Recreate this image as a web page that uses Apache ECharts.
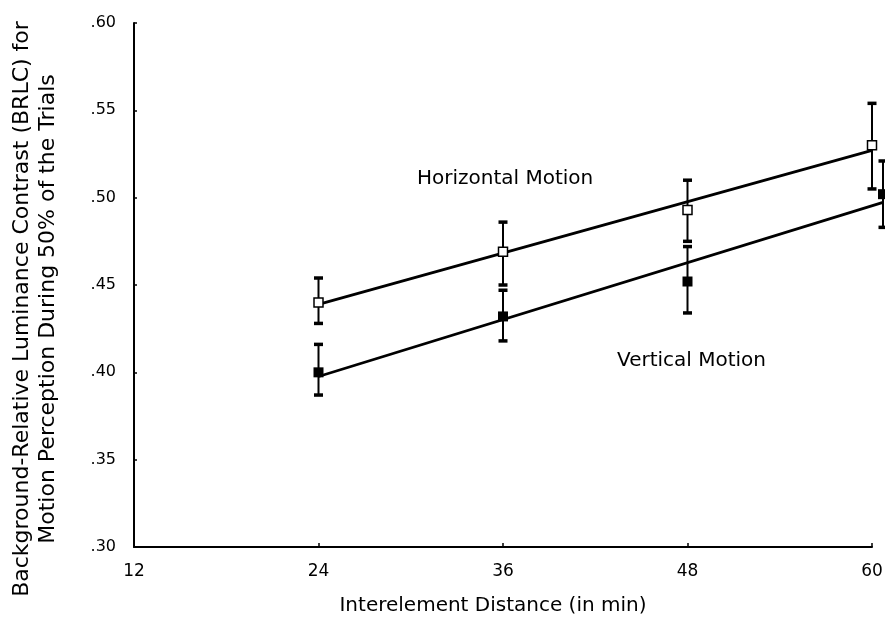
<!DOCTYPE html>
<html>
<head>
<meta charset="utf-8">
<script src="https://cdn.jsdelivr.net/npm/echarts@6/dist/echarts.min.js"></script>
<style>
  html, body { margin: 0; padding: 0; background: #fff; }
  #chart { width: 885px; height: 620px; }
</style>
</head>
<body>
<div id="chart"></div>
<script>
// Interelement distance (min) at which each condition was measured
const distances = [24, 36, 48, 60];
const xTicks = [12, 24, 36, 48, 60];
const yTicks = [0.30, 0.35, 0.40, 0.45, 0.50, 0.55, 0.60];

// Horizontal motion: mean BRLC threshold and error-bar limits
const horizMean = [0.440, 0.469, 0.493, 0.530];
const horizLow  = [0.428, 0.450, 0.475, 0.505];
const horizHigh = [0.454, 0.486, 0.510, 0.554];

// Vertical motion: mean BRLC threshold and error-bar limits
const vertMean = [0.400, 0.432, 0.452, 0.502];
const vertLow  = [0.387, 0.418, 0.434, 0.483];
const vertHigh = [0.416, 0.447, 0.472, 0.521];

const FONT = '"DejaVu Sans", "Liberation Sans", Arial, sans-serif';
const DODGE_PX = 11; // last vertical-motion point is nudged right so its bar clears the other one

// least-squares straight line through the means
function linearFit(xs, ys) {
  const n = xs.length;
  const mx = xs.reduce((a, b) => a + b, 0) / n;
  const my = ys.reduce((a, b) => a + b, 0) / n;
  let sxy = 0, sxx = 0;
  for (let i = 0; i < n; i++) {
    sxy += (xs[i] - mx) * (ys[i] - my);
    sxx += (xs[i] - mx) * (xs[i] - mx);
  }
  const slope = sxy / sxx;
  return x => my + slope * (x - mx);
}

function errorBarSeries(name, low, high, dodgeLast) {
  return {
    type: 'custom',
    name: name + ' SE',
    z: 1,
    clip: false,
    encode: { x: 0, y: [1, 2] },
    data: distances.map((x, i) => [x, low[i], high[i]]),
    renderItem(params, api) {
      const dx = (dodgeLast && params.dataIndex === distances.length - 1) ? DODGE_PX : 0;
      const top = api.coord([api.value(0), api.value(2)]);
      const bot = api.coord([api.value(0), api.value(1)]);
      const x = top[0] + dx;
      return {
        type: 'group',
        children: [
          { type: 'line', shape: { x1: x, y1: top[1], x2: x, y2: bot[1] },
            style: { stroke: '#000', lineWidth: 2 } },
          { type: 'rect', shape: { x: x - 4.5, y: top[1] - 1.75, width: 9, height: 3.5 },
            style: { fill: '#000' } },
          { type: 'rect', shape: { x: x - 4.5, y: bot[1] - 1.75, width: 9, height: 3.5 },
            style: { fill: '#000' } }
        ]
      };
    }
  };
}

function fitLineSeries(name, means, dodgeLast) {
  const f = linearFit(distances, means);
  const x0 = distances[0], x1 = distances[distances.length - 1];
  return {
    type: 'custom',
    name: name + ' fit',
    z: 2,
    clip: false,
    encode: { x: [0, 2], y: [1, 3] },
    data: [[x0, f(x0), x1, f(x1)]],
    renderItem(params, api) {
      const a = api.coord([api.value(0), api.value(1)]);
      const b = api.coord([api.value(2), api.value(3)]);
      let bx = b[0], by = b[1];
      if (dodgeLast) {
        // carry the line on to the nudged end point
        const slope = (b[1] - a[1]) / (b[0] - a[0]);
        bx += DODGE_PX;
        by += slope * DODGE_PX;
      }
      return {
        type: 'line',
        shape: { x1: a[0], y1: a[1], x2: bx, y2: by },
        style: { stroke: '#000', lineWidth: 2.8 }
      };
    }
  };
}

function pointSeries(name, means, filled, dodgeLast) {
  return {
    type: 'scatter',
    name: name,
    z: 3,
    symbol: 'rect',
    symbolSize: filled ? 10 : 9,
    itemStyle: filled
      ? { color: '#000', opacity: 1 }
      : { color: '#fff', borderColor: '#000', borderWidth: 1.5, opacity: 1 },
    emphasis: { disabled: true },
    data: distances.map((x, i) => {
      const item = { value: [x, means[i]] };
      if (dodgeLast && i === distances.length - 1) item.symbolOffset = [DODGE_PX, 0];
      return item;
    })
  };
}

const chart = echarts.init(document.getElementById('chart'), null, { renderer: 'canvas' });

chart.setOption({
  backgroundColor: '#fff',
  animation: false,
  grid: {
    left: 134, right: 13, top: 23, bottom: 73,
    containLabel: false,
    outerBoundsMode: 'none'
  },
  xAxis: {
    type: 'value',
    min: xTicks[0],
    max: xTicks[xTicks.length - 1],
    interval: xTicks[1] - xTicks[0],
    axisLine: { show: true, onZero: false, lineStyle: { color: '#000', width: 2 } },
    axisTick: { show: true, inside: true, length: 4, lineStyle: { color: '#000', width: 1.5 } },
    axisLabel: { color: '#000', fontFamily: FONT, fontSize: 17, margin: 16,
                 formatter: v => String(v) },
    splitLine: { show: false }
  },
  yAxis: {
    type: 'value',
    min: yTicks[0],
    max: yTicks[yTicks.length - 1],
    interval: 0.05,
    axisLine: { show: true, onZero: false, lineStyle: { color: '#000', width: 2 } },
    axisTick: { show: true, inside: true, length: 3, lineStyle: { color: '#000', width: 1.5 } },
    axisLabel: { color: '#000', fontFamily: FONT, fontSize: 16, margin: 18,
                 formatter: v => v.toFixed(2).replace(/^0/, '') },
    splitLine: { show: false }
  },
  series: [
    errorBarSeries('Horizontal Motion', horizLow, horizHigh, false),
    errorBarSeries('Vertical Motion', vertLow, vertHigh, true),
    fitLineSeries('Horizontal Motion', horizMean, false),
    fitLineSeries('Vertical Motion', vertMean, true),
    pointSeries('Horizontal Motion', horizMean, false, false),
    pointSeries('Vertical Motion', vertMean, true, true)
  ],
  graphic: [
    {
      type: 'text', x: 35, y: 309, rotation: Math.PI / 2,
      style: {
        text: 'Background-Relative Luminance Contrast (BRLC) for\nMotion Perception During 50% of the Trials',
        font: '22px ' + FONT, fill: '#000',
        align: 'center', verticalAlign: 'middle',
        textAlign: 'center', textVerticalAlign: 'middle',
        lineHeight: 26
      }
    },
    {
      type: 'text', x: 493, y: 606,
      style: {
        text: 'Interelement Distance (in min)',
        font: '20px ' + FONT, fill: '#000',
        align: 'center', verticalAlign: 'middle',
        textAlign: 'center', textVerticalAlign: 'middle'
      }
    },
    {
      type: 'text', x: 417, y: 179,
      style: {
        text: 'Horizontal Motion',
        font: '20px ' + FONT, fill: '#000',
        align: 'left', verticalAlign: 'middle',
        textAlign: 'left', textVerticalAlign: 'middle'
      }
    },
    {
      type: 'text', x: 617, y: 361,
      style: {
        text: 'Vertical Motion',
        font: '20px ' + FONT, fill: '#000',
        align: 'left', verticalAlign: 'middle',
        textAlign: 'left', textVerticalAlign: 'middle'
      }
    }
  ]
});
</script>
</body>
</html>
